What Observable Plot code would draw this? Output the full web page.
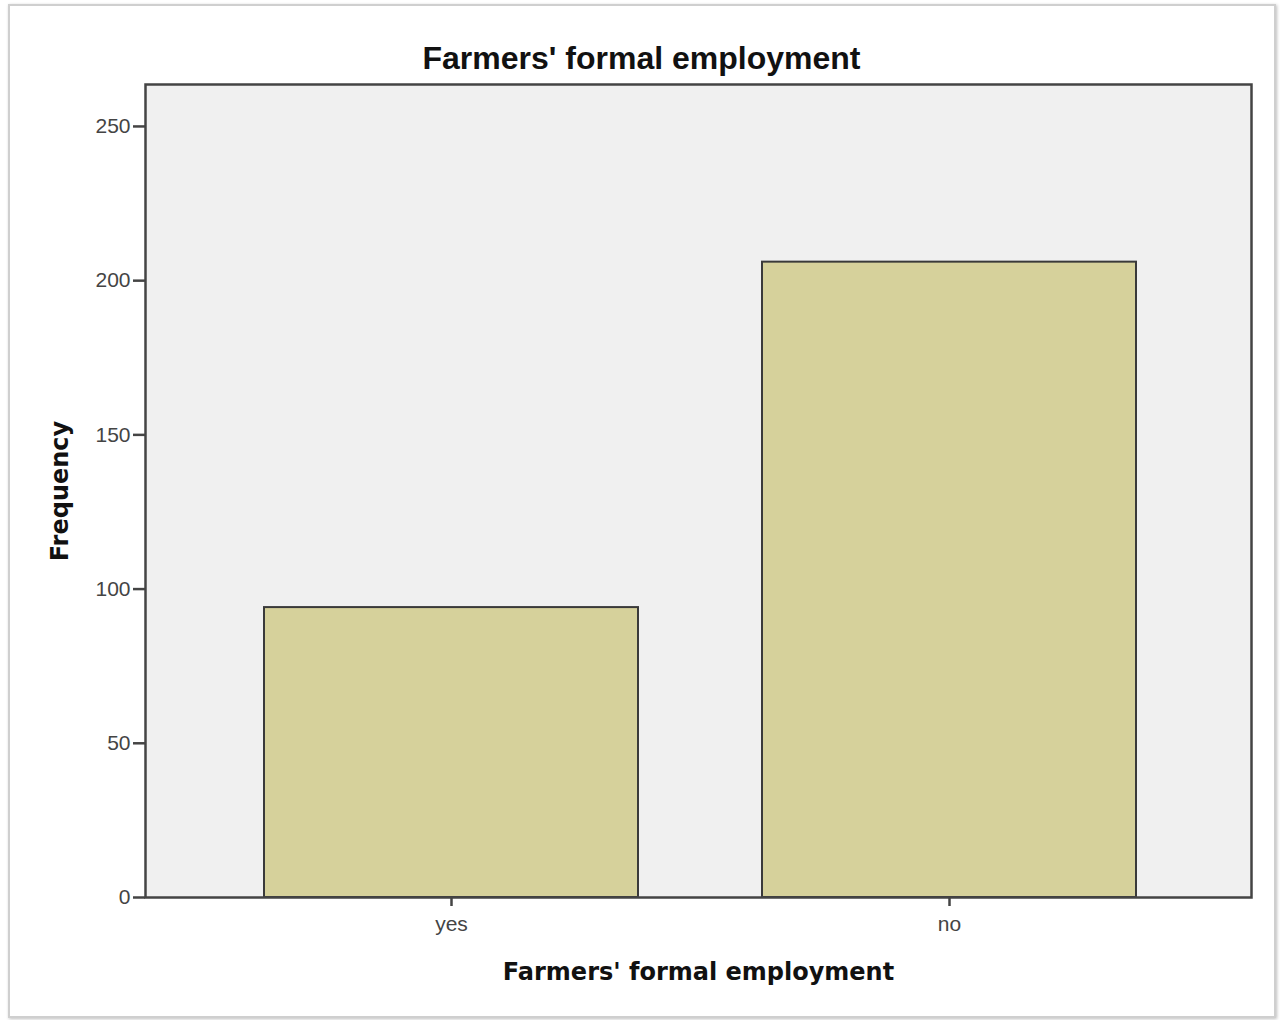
<!DOCTYPE html>
<html>
<head>
<meta charset="utf-8">
<script src="https://cdn.jsdelivr.net/npm/d3@7"></script>
<script src="https://cdn.jsdelivr.net/npm/@observablehq/plot@0.6"></script>
<style>
  html, body { margin: 0; padding: 0; background: #fff; }
  #wrap { position: relative; width: 1283px; height: 1020px; overflow: hidden; font-family: "Liberation Sans", Arial, sans-serif; }
  #border { position: absolute; left: 8px; top: 4px; width: 1264px; height: 1010px; border: 2px solid #cfcfcf; box-shadow: 1px 1px 3px rgba(0,0,0,0.25); pointer-events: none; }
  #title { position: absolute; left: 0; top: 0; width: 1283px; height: 80px; box-sizing: border-box; padding-top: 40px; text-align: center; font: bold 32px "Liberation Sans", Arial, sans-serif; color: #111; line-height: 36px; }
  #chart { position: absolute; left: 0; top: 80px; }
  #chart g[aria-label="y-axis label"] text, #chart g[aria-label="x-axis label"] text {
    font-family: "DejaVu Sans", sans-serif; font-weight: bold; font-size: 24px; fill: #111;
  }
</style>
</head>
<body>
<div id="wrap">
  <div id="border"></div>
  <div id="title">Farmers' formal employment</div>
  <div id="chart"></div>
</div>
<script>
const categories = ["yes", "no"];
const frequencies = [94, 206];
const yTicks = [0, 50, 100, 150, 200, 250];
const yMax = 263.6;
const titleText = "Farmers' formal employment";
const xLabel = "Farmers' formal employment";
const yLabel = "Frequency";

const data = categories.map((c, i) => ({category: c, frequency: frequencies[i]}));

const chart = Plot.plot({
  width: 1283,
  height: 940,
  marginLeft: 145,
  marginRight: 32,
  marginTop: 4,
  marginBottom: 123,
  style: {fontFamily: "Liberation Sans, Arial, sans-serif", fontSize: "21px", color: "#444", background: "transparent", overflow: "visible"},
  x: {domain: categories, paddingInner: 0.2485, paddingOuter: 0.2325, align: 0.5086},
  y: {domain: [0, yMax]},
  marks: [
    Plot.frame({fill: "#f0f0f0"}),
    Plot.barY(data, {x: "category", y: "frequency", fill: "#d6d19b", stroke: "#3a3a3a", strokeWidth: 2}),
    Plot.frame({stroke: "#444", strokeWidth: 2.5}),
    Plot.axisY({ticks: yTicks, tickSize: 12, tickPadding: 3, strokeWidth: 2.5, stroke: "#444", fill: "#444",
      label: yLabel, labelAnchor: "center", labelOffset: 95, labelArrow: "none"}),
    Plot.axisX({tickSize: 9, tickPadding: 10, strokeWidth: 2.5, stroke: "#444", fill: "#444",
      label: xLabel, labelAnchor: "center", labelOffset: 82, labelArrow: "none"})
  ]
});
document.getElementById("chart").appendChild(chart);
</script>
</body>
</html>
